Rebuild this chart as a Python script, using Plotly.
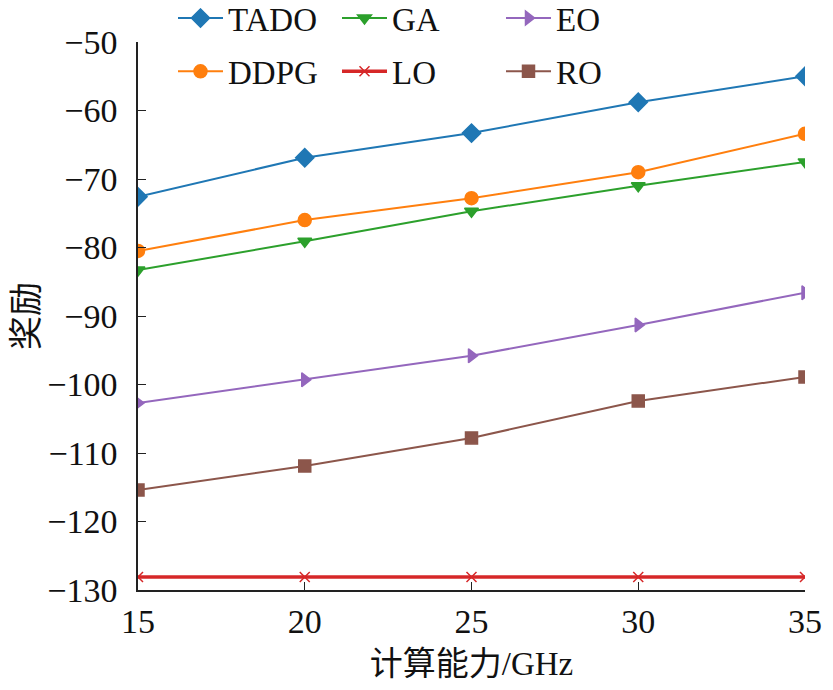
import plotly.graph_objects as go

x_vals = [15, 20, 25, 30, 35]

tado = [-72.6, -66.9, -63.3, -58.8, -55.0]
ddpg = [-80.5, -76.0, -72.8, -69.0, -63.4]
ga = [-83.3, -79.1, -74.7, -71.0, -67.5]
lo = [-128.1, -128.1, -128.1, -128.1, -128.1]
eo = [-102.7, -99.3, -95.8, -91.3, -86.6]
ro = [-115.4, -111.9, -107.8, -102.4, -98.9]

y_ticks = [-130, -120, -110, -100, -90, -80, -70, -60, -50]
y_labels = ["\u2212" + str(abs(v)) for v in y_ticks]

FONT = "Liberation Serif, Noto Sans CJK SC, serif"

# (name, data, colour, marker symbol, marker size, line width, legend)
series = [
    ("TADO", tado, "#1f77b4", "diamond", 14, 2, "legend"),
    ("GA", ga, "#2ca02c", "triangle-down", 12, 2, "legend"),
    ("EO", eo, "#9467bd", "triangle-right", 12, 2, "legend"),
    ("DDPG", ddpg, "#ff7f0e", "circle", 13, 2, "legend2"),
    ("LO", lo, "#d62728", "x-thin", 10, 3.5, "legend2"),
    ("RO", ro, "#8c564b", "square", 12, 2, "legend2"),
]

fig = go.Figure()
for name, vals, color, symbol, msize, lwidth, leg in series:
    fig.add_trace(go.Scatter(
        x=x_vals,
        y=vals,
        mode="lines+markers",
        name=name,
        legend=leg,
        line=dict(color=color, width=lwidth),
        marker=dict(symbol=symbol, size=msize, color=color,
                    line=dict(color=color, width=1.5)),
    ))

legend_style = dict(
    orientation="h",
    xref="container",
    yref="container",
    xanchor="left",
    yanchor="middle",
    x=0.2,
    font=dict(family=FONT, size=33, color="#111"),
    bgcolor="rgba(0,0,0,0)",
    itemwidth=45,
    entrywidth=104,
    entrywidthmode="pixels",
    tracegroupgap=0,
)

# the page body adds an 8px margin, so the figure is made a bit smaller
fig.update_layout(
    width=825,
    height=674,
    margin=dict(l=130, r=28, t=34, b=92, autoexpand=False),
    paper_bgcolor="white",
    plot_bgcolor="white",
    font=dict(family=FONT, size=33, color="#111"),
    legend=dict(legend_style, y=0.985),
    legend2=dict(legend_style, y=0.906),
    xaxis=dict(
        range=[15, 35],
        tickvals=x_vals,
        ticks="inside",
        ticklen=8,
        tickcolor="#222",
        showline=True,
        linecolor="#222",
        linewidth=1.5,
        showgrid=False,
        zeroline=False,
        ticklabelstandoff=0,
        ticklabeloverflow="allow",
        tickfont=dict(family=FONT, size=34),
        title=dict(text="计算能力/GHz", font=dict(family=FONT, size=33), standoff=14),
    ),
    yaxis=dict(
        range=[-130, -50],
        tickvals=y_ticks,
        ticktext=y_labels,
        ticks="inside",
        ticklen=8,
        tickcolor="#222",
        showline=True,
        linecolor="#222",
        linewidth=1.5,
        showgrid=False,
        zeroline=False,
        ticklabelstandoff=12,
        tickfont=dict(family=FONT, size=34),
        title=dict(text="奖励", font=dict(family=FONT, size=34), standoff=10),
    ),
)

fig.write_html("out.html")
